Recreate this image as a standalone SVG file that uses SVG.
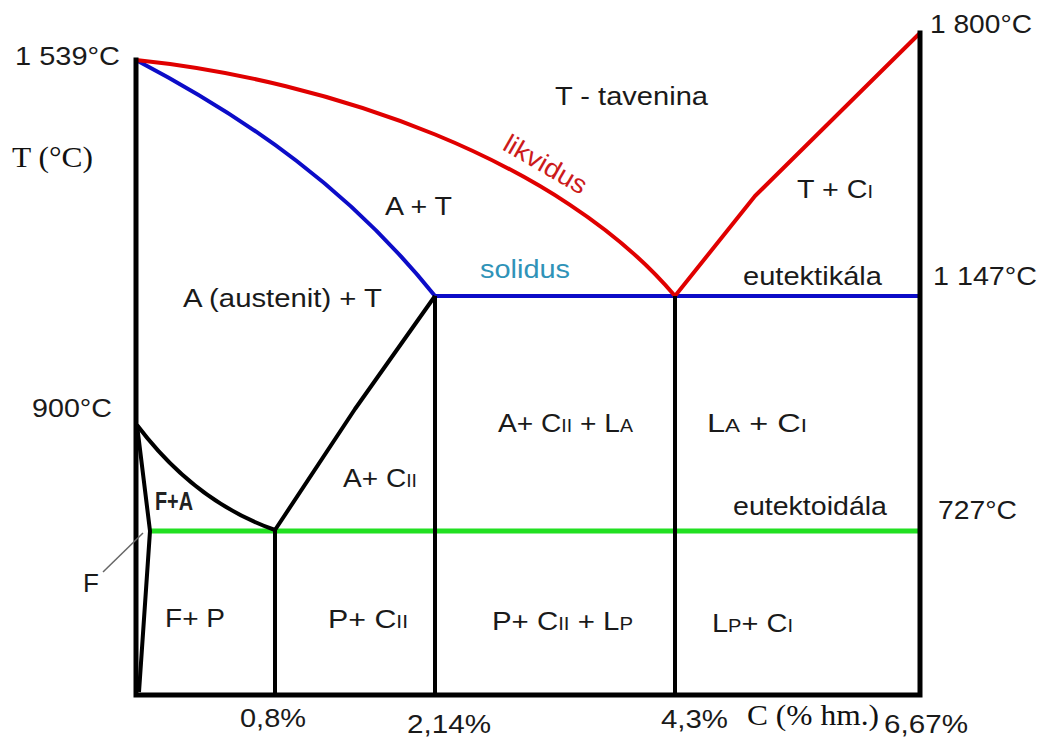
<svg xmlns="http://www.w3.org/2000/svg" width="1043" height="743" viewBox="0 0 1043 743">
<style>
.t{font-family:"Liberation Sans",Arial,sans-serif;font-size:26px;fill:#1a1a1a}
.s{font-family:"Liberation Serif","Times New Roman",serif;font-size:30px;fill:#111}
.sub{font-size:18px}
.ax{stroke:#000;stroke-width:5;fill:none;stroke-linecap:square}
.bk{stroke:#000;stroke-width:4;fill:none;stroke-linejoin:round}
.red{stroke:#e00000;stroke-width:4;fill:none;stroke-linejoin:round}
.blue{stroke:#0c0cc8;stroke-width:4;fill:none;stroke-linejoin:round}
.green{stroke:#22e022;stroke-width:5;fill:none}
</style>
<rect width="1043" height="743" fill="#fff"/>
<g id="connectors">
<line class="green" x1="150" y1="531" x2="918" y2="531"/>
<path class="blue" d="M136,60 C250,120 350,190 435,296 L920,296"/>
<path class="red" d="M136,60 C330,80 560,160 675,296 L755,196 L920,33"/>
<path class="bk" d="M137,425 Q195,502 275,530 L355,409 L435,296"/>
<path class="bk" d="M137,425 L150,531 L139,692"/>
<line class="bk" x1="275" y1="530" x2="275" y2="695"/>
<line class="bk" x1="435" y1="296" x2="435" y2="695"/>
<line class="bk" x1="675" y1="296" x2="675" y2="695"/>
<path class="ax" d="M136,60 L136,695 L920,695 L920,33"/>
<line x1="103" y1="572" x2="143" y2="533" stroke="#666" stroke-width="1.5"/>
</g>
<g id="axis-labels">
<text class="t" x="15" y="65" font-size="27" textLength="105" lengthAdjust="spacingAndGlyphs">1 539°C</text>
<text class="s" x="12" y="167" textLength="81" lengthAdjust="spacingAndGlyphs">T (°C)</text>
<text class="t" x="930" y="33" textLength="102" lengthAdjust="spacingAndGlyphs">1 800°C</text>
<text class="t" x="933" y="285" textLength="104" lengthAdjust="spacingAndGlyphs">1 147°C</text>
<text class="t" x="32" y="417" textLength="80" lengthAdjust="spacingAndGlyphs">900°C</text>
<text class="t" x="938" y="519" textLength="79" lengthAdjust="spacingAndGlyphs">727°C</text>
<text class="t" x="240" y="727" textLength="66" lengthAdjust="spacingAndGlyphs">0,8%</text>
<text class="t" x="407" y="733" textLength="84" lengthAdjust="spacingAndGlyphs">2,14%</text>
<text class="t" x="661" y="728" textLength="67" lengthAdjust="spacingAndGlyphs">4,3%</text>
<text class="s" x="747" y="725" textLength="132" lengthAdjust="spacingAndGlyphs">C (% hm.)</text>
<text class="t" x="884" y="733" textLength="84" lengthAdjust="spacingAndGlyphs">6,67%</text>
</g>
<g id="line-labels">
<text class="t" font-size="24" style="fill:#cc1b1b" text-anchor="middle" textLength="92" lengthAdjust="spacingAndGlyphs" transform="translate(541,172) rotate(30)">likvidus</text>
<text class="t" x="480" y="278" font-size="24" style="fill:#2f93b8" textLength="90" lengthAdjust="spacingAndGlyphs">solidus</text>
<text class="t" x="743" y="285" font-size="24" textLength="139" lengthAdjust="spacingAndGlyphs">eutektikála</text>
<text class="t" x="733" y="515" font-size="24" textLength="154" lengthAdjust="spacingAndGlyphs">eutektoidála</text>
</g>
<g id="region-T"><text class="t" x="555" y="105" font-size="24" textLength="153" lengthAdjust="spacingAndGlyphs">T - tavenina</text></g>
<g id="region-AT"><text class="t" x="385" y="215" textLength="67" lengthAdjust="spacingAndGlyphs">A + T</text></g>
<g id="region-TC1"><text class="t" x="797" y="198" textLength="76" lengthAdjust="spacingAndGlyphs">T + C<tspan class="sub">I</tspan></text></g>
<g id="region-austenit"><text class="t" x="183" y="307" textLength="199" lengthAdjust="spacingAndGlyphs">A (austenit) + T</text></g>
<g id="region-ACL"><text class="t" x="498" y="432" textLength="135" lengthAdjust="spacingAndGlyphs">A+ C<tspan class="sub">II</tspan> + L<tspan class="sub">A</tspan></text></g>
<g id="region-LAC"><text class="t" x="707" y="432" textLength="100" lengthAdjust="spacingAndGlyphs">L<tspan class="sub">A</tspan> + C<tspan class="sub">I</tspan></text></g>
<g id="region-AC2"><text class="t" x="343" y="487" textLength="74" lengthAdjust="spacingAndGlyphs">A+ C<tspan class="sub">II</tspan></text></g>
<g id="region-FA"><text class="t" x="155" y="510" font-size="17" font-weight="bold" textLength="38" lengthAdjust="spacingAndGlyphs" style="fill:#222">F+A</text></g>
<g id="region-F"><text class="t" x="83" y="592" font-size="27">F</text></g>
<g id="region-FP"><text class="t" x="165" y="627" textLength="60" lengthAdjust="spacingAndGlyphs">F+ P</text></g>
<g id="region-PC2"><text class="t" x="328" y="628" textLength="80" lengthAdjust="spacingAndGlyphs">P+ C<tspan class="sub">II</tspan></text></g>
<g id="region-PCL"><text class="t" x="492" y="630" textLength="141" lengthAdjust="spacingAndGlyphs">P+ C<tspan class="sub">II</tspan> + L<tspan class="sub">P</tspan></text></g>
<g id="region-LPC"><text class="t" x="712" y="632" textLength="81" lengthAdjust="spacingAndGlyphs">L<tspan class="sub">P</tspan>+ C<tspan class="sub">I</tspan></text></g>
</svg>
